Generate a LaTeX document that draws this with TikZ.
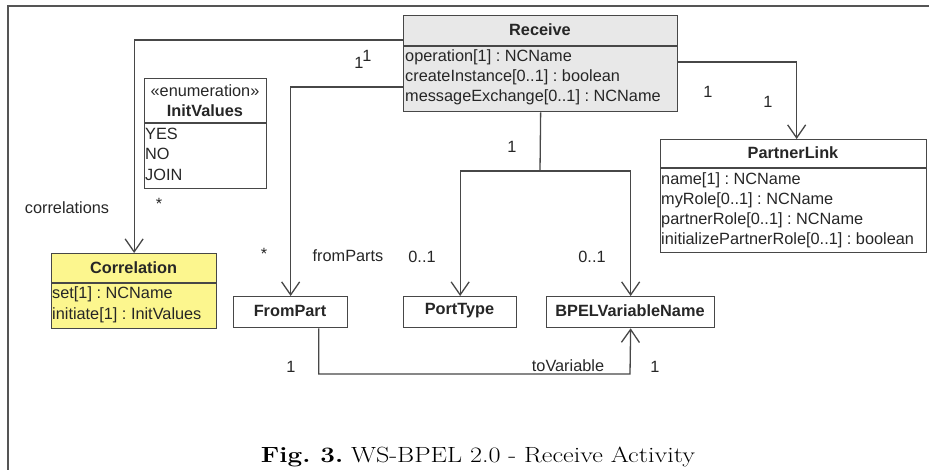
\documentclass[tikz,border=0pt]{standalone}
\usepackage{fontspec}
\usepackage{graphicx}
\newfontfamily\dfont{Liberation Sans}
\usetikzlibrary{arrows.meta,calc}
\definecolor{linec}{HTML}{474747}
\definecolor{txtc}{HTML}{262626}
\definecolor{framec}{HTML}{555555}
\definecolor{recfill}{HTML}{E8E8E8}
\definecolor{corrfill}{HTML}{FCF68E}
\frenchspacing
\begin{document}
\begin{tikzpicture}[x=1pt,y=-1pt,
  box/.style={draw=linec, line width=1.3pt, inner sep=0pt, anchor=north west},
  txt/.style={font=\dfont\fontsize{16.3}{19}\selectfont, text=txtc, inner sep=0pt, anchor=west},
  ctxt/.style={font=\dfont\fontsize{16.3}{19}\selectfont, text=txtc, inner sep=0pt},
  btxt/.style={font=\dfont\bfseries\fontsize{16.3}{19}\selectfont, text=txtc, inner sep=0pt},
  lbl/.style={font=\dfont\fontsize{16.3}{19}\selectfont, text=txtc, inner sep=0pt},
  conn/.style={draw=linec, line width=1.3pt},
  assoc/.style={conn, -{Straight Barb[length=13pt,width=18pt,line width=1.3pt]}}
]
\useasboundingbox (0,0) rectangle (929,470);
% frame
\draw[framec, line width=1.6pt] (929,6) -- (8,6) -- (8,470);

% Receive
\node[box, fill=recfill, minimum width=274pt, minimum height=96pt] (receive) at (403,15) {};
\draw[conn] ([yshift=-31pt]receive.north west) -- ([yshift=-31pt]receive.north east);
\node[btxt] (recT) at (540,30) {Receive};
\node[txt] (ra1) at (405,57) {operation[1] : NCName};
\node[txt] (ra2) at (405,77) {createInstance[0..1] : boolean};
\node[txt] (ra3) at (405,97) {messageExchange[0..1] : NCName};

% InitValues
\node[box, minimum width=122pt, minimum height=110pt] (initv) at (144,78) {};
\draw[conn] ([yshift=-45pt]initv.north west) -- ([yshift=-45pt]initv.north east);
\node[ctxt] (ivS) at (205,91) {«enumeration»};
\node[btxt] (ivT) at (205,111) {InitValues};
\node[txt] (iv1) at (145,134) {YES};
\node[txt] (iv2) at (145,154) {NO};
\node[txt] (iv3) at (145,175) {JOIN};

% Correlation
\node[box, fill=corrfill, minimum width=165pt, minimum height=75pt] (corr) at (51,253) {};
\draw[conn] ([yshift=-30pt]corr.north west) -- ([yshift=-30pt]corr.north east);
\node[btxt] (corrT) at (133.5,268) {Correlation};
\node[txt] (ca1) at (52,294) {set[1] : NCName};
\node[txt] (ca2) at (52,315) {initiate[1] : InitValues};

% PartnerLink
\node[box, minimum width=266pt, minimum height=113pt] (partner) at (660,139) {};
\draw[conn] ([yshift=-29pt]partner.north west) -- ([yshift=-29pt]partner.north east);
\node[btxt] (pT) at (793,153) {PartnerLink};
\node[txt] (pa1) at (661,180) {name[1] : NCName};
\node[txt] (pa2) at (661,200) {myRole[0..1] : NCName};
\node[txt] (pa3) at (661,220) {partnerRole[0..1] : NCName};
\node[txt] (pa4) at (661,240) {initializePartnerRole[0..1] : boolean};

% small classes
\node[box, minimum width=114pt, minimum height=31pt] (fromPart) at (233,296) {};
\node[btxt] (fpT) at (290,311) {FromPart};
\node[box, minimum width=113pt, minimum height=31pt] (portType) at (403,296) {};
\node[btxt] (ptT) at (459.5,311) {PortType};
\node[box, minimum width=168pt, minimum height=31pt] (bpel) at (546,296) {};
\node[btxt] (bvT) at (630,311) {BPELVariableName};

% connectors
\draw[assoc] ([yshift=-25pt]receive.north west) -| (corr.north);
\draw[assoc] ([yshift=-72pt]receive.north west) -| (fromPart.north);
\draw[assoc] ([yshift=-47pt]receive.north east) -| ([xshift=3pt]partner.north);
\coordinate (j) at (540,171);
\draw[conn] (receive.south) -- (j);
\draw[assoc] (j) -| (portType.north);
\draw[assoc] (j) -| (bpel.north);
\coordinate (k) at (630,374);
\draw[assoc] ([xshift=28pt]fromPart.south) |- (k) -- (bpel.south);

% labels
\node[lbl] (l1a) at (359,63) {1};
\node[lbl] (l1b) at (367,56) {1};
\node[lbl] (lcorr) at (67,208) {correlations};
\node[lbl] (lstar1) at (159,204) {*};
\node[lbl] (lp1) at (708,92) {1};
\node[lbl] (lp2) at (768,102) {1};
\node[lbl] (lr1) at (512,147) {1};
\node[lbl] (lstar2) at (264,254) {*};
\node[lbl] (lfp) at (348,256) {fromParts};
\node[lbl] (l01a) at (422,257) {0..1};
\node[lbl] (l01b) at (592,257) {0..1};
\node[lbl] (lf1) at (291,367) {1};
\node[lbl] (ltv) at (568,366) {toVariable};
\node[lbl] (lv1) at (655,367) {1};

% caption
\node[inner sep=0pt, anchor=base] (cap) at (478,462) {\resizebox{434pt}{\height}{\fontsize{22}{26}\selectfont\textbf{Fig. 3.} WS-BPEL 2.0 - Receive Activity}};
\end{tikzpicture}
\end{document}
